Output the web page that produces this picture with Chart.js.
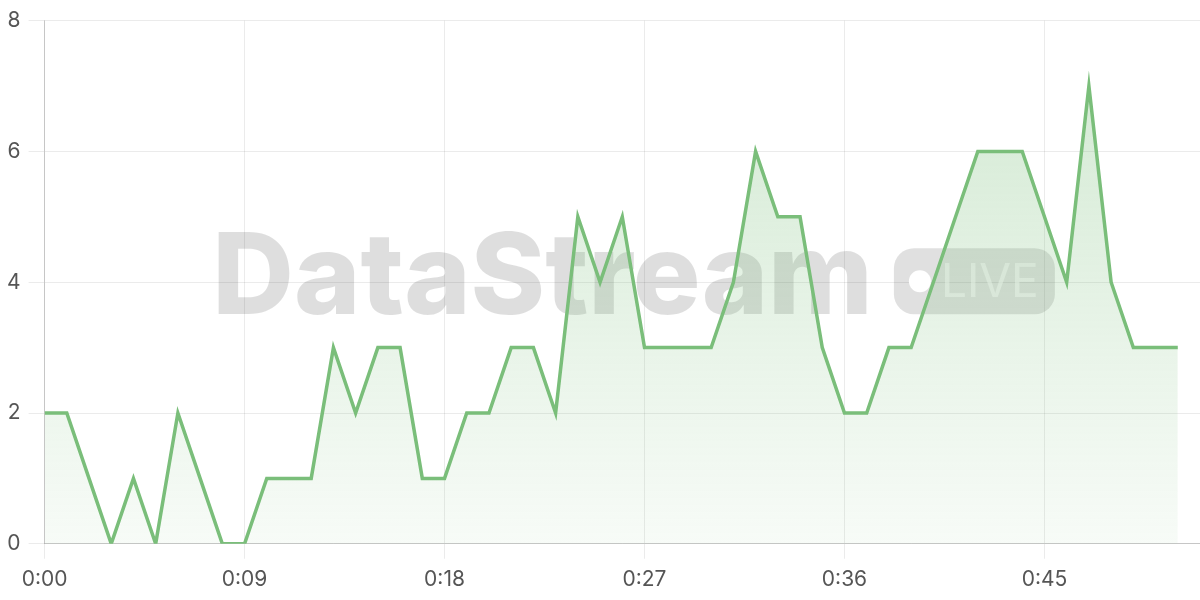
<!DOCTYPE html>
<html>
<head>
<meta charset="utf-8">
<script src="https://cdn.jsdelivr.net/npm/chart.js@4/dist/chart.umd.min.js"></script>
<style>
  html, body { margin: 0; padding: 0; background: #fff; }
  #wrap { width: 1200px; height: 600px; }
</style>
</head>
<body>
<div id="wrap"><canvas id="grafica"></canvas></div>
<script>
// segundos transcurridos (eje X)
const segundos = [0, 1, 2, 3, 4, 5, 6, 7, 8, 9, 10, 11, 12, 13, 14, 15, 16, 17, 18, 19,
  20, 21, 22, 23, 24, 25, 26, 27, 28, 29, 30, 31, 32, 33, 34, 35, 36, 37, 38, 39,
  40, 41, 42, 43, 44, 45, 46, 47, 48, 49, 50, 51];
// eventos por segundo
const eventos = [2, 2, 1, 0, 1, 0, 2, 1, 0, 0, 1, 1, 1, 3, 2, 3, 3, 1, 1, 2,
  2, 3, 3, 2, 5, 4, 5, 3, 3, 3, 3, 4, 6, 5, 5, 3, 2, 2, 3, 3,
  4, 5, 6, 6, 6, 5, 4, 7, 4, 3, 3, 3];
// marcas de los ejes
const ticksX = [0, 9, 18, 27, 36, 45];
const ticksY = [0, 2, 4, 6, 8];

const verde = 'rgb(122, 190, 122)';
const fuente = 'Inter, "Noto Sans", sans-serif';

// marca de agua "DataStream LIVE" entre la cuadricula y la linea
const marcaAgua = {
  id: 'marcaAgua',
  beforeDatasetsDraw(chart) {
    const { ctx, chartArea: a } = chart;
    const cx = (a.left + a.right) / 2;
    const cy = (a.top + a.bottom) / 2;
    ctx.save();
    ctx.font = '800 113px ' + fuente;
    const tw = ctx.measureText('DataStream').width;
    const pw = 161, ph = 66, gap = 21;
    const x0 = cx - 410;
    ctx.fillStyle = 'rgba(0, 0, 0, 0.13)';
    ctx.textBaseline = 'alphabetic';
    ctx.fillText('DataStream', x0, cy + 32);
    // pastilla
    const px = x0 + tw + gap, py = cy + 32 - ph;
    ctx.fillStyle = 'rgba(0, 0, 0, 0.12)';
    ctx.beginPath();
    ctx.roundRect(px, py, pw, ph, 20);
    ctx.fill();
    ctx.fillStyle = '#fff';
    ctx.beginPath();
    ctx.arc(px + 26, py + ph / 2, 11, 0, Math.PI * 2);
    ctx.fill();
    ctx.fillStyle = 'rgba(255, 255, 255, 0.55)';
    ctx.font = '400 46px ' + fuente;
    ctx.fillText('LIVE', px + 47, py + ph / 2 + 16);
    ctx.restore();
  }
};

new Chart(document.querySelector('#grafica'), {
  type: 'line',
  data: {
    datasets: [{
      data: segundos.map((s, i) => ({ x: s, y: eventos[i] })),
      borderColor: verde,
      borderWidth: 3.5,
      pointRadius: 0,
      tension: 0,
      fill: 'origin',
      backgroundColor(context) {
        const a = context.chart.chartArea;
        if (!a) return 'rgba(122, 190, 122, 0.15)';
        const g = context.chart.ctx.createLinearGradient(0, a.top, 0, a.bottom);
        g.addColorStop(0, 'rgba(122, 190, 122, 0.35)');
        g.addColorStop(1, 'rgba(122, 190, 122, 0.06)');
        return g;
      }
    }]
  },
  options: {
    responsive: true,
    maintainAspectRatio: false,
    animation: false,
    layout: { padding: { left: -1, right: 0, top: 8, bottom: 0 } },
    plugins: {
      legend: { display: false },
      tooltip: { enabled: false }
    },
    scales: {
      x: {
        type: 'linear',
        min: 0,
        max: 52,
        afterBuildTicks(scale) { scale.ticks = ticksX.map(v => ({ value: v })); },
        ticks: {
          color: '#555',
          font: { family: fuente, size: 21 },
          padding: 8,
          maxRotation: 0,
          callback: v => '0:' + String(v).padStart(2, '0')
        },
        grid: { color: 'rgba(0, 0, 0, 0.08)', tickLength: 15 },
        border: { color: 'rgba(0, 0, 0, 0.16)' }
      },
      y: {
        min: 0,
        max: 8,
        afterBuildTicks(scale) { scale.ticks = ticksY.map(v => ({ value: v })); },
        ticks: {
          color: '#555',
          font: { family: fuente, size: 21 },
          padding: 8
        },
        grid: { color: 'rgba(0, 0, 0, 0.08)', tickLength: 16 },
        border: { color: 'rgba(0, 0, 0, 0.16)' }
      }
    }
  },
  plugins: [marcaAgua]
});
</script>
</body>
</html>
